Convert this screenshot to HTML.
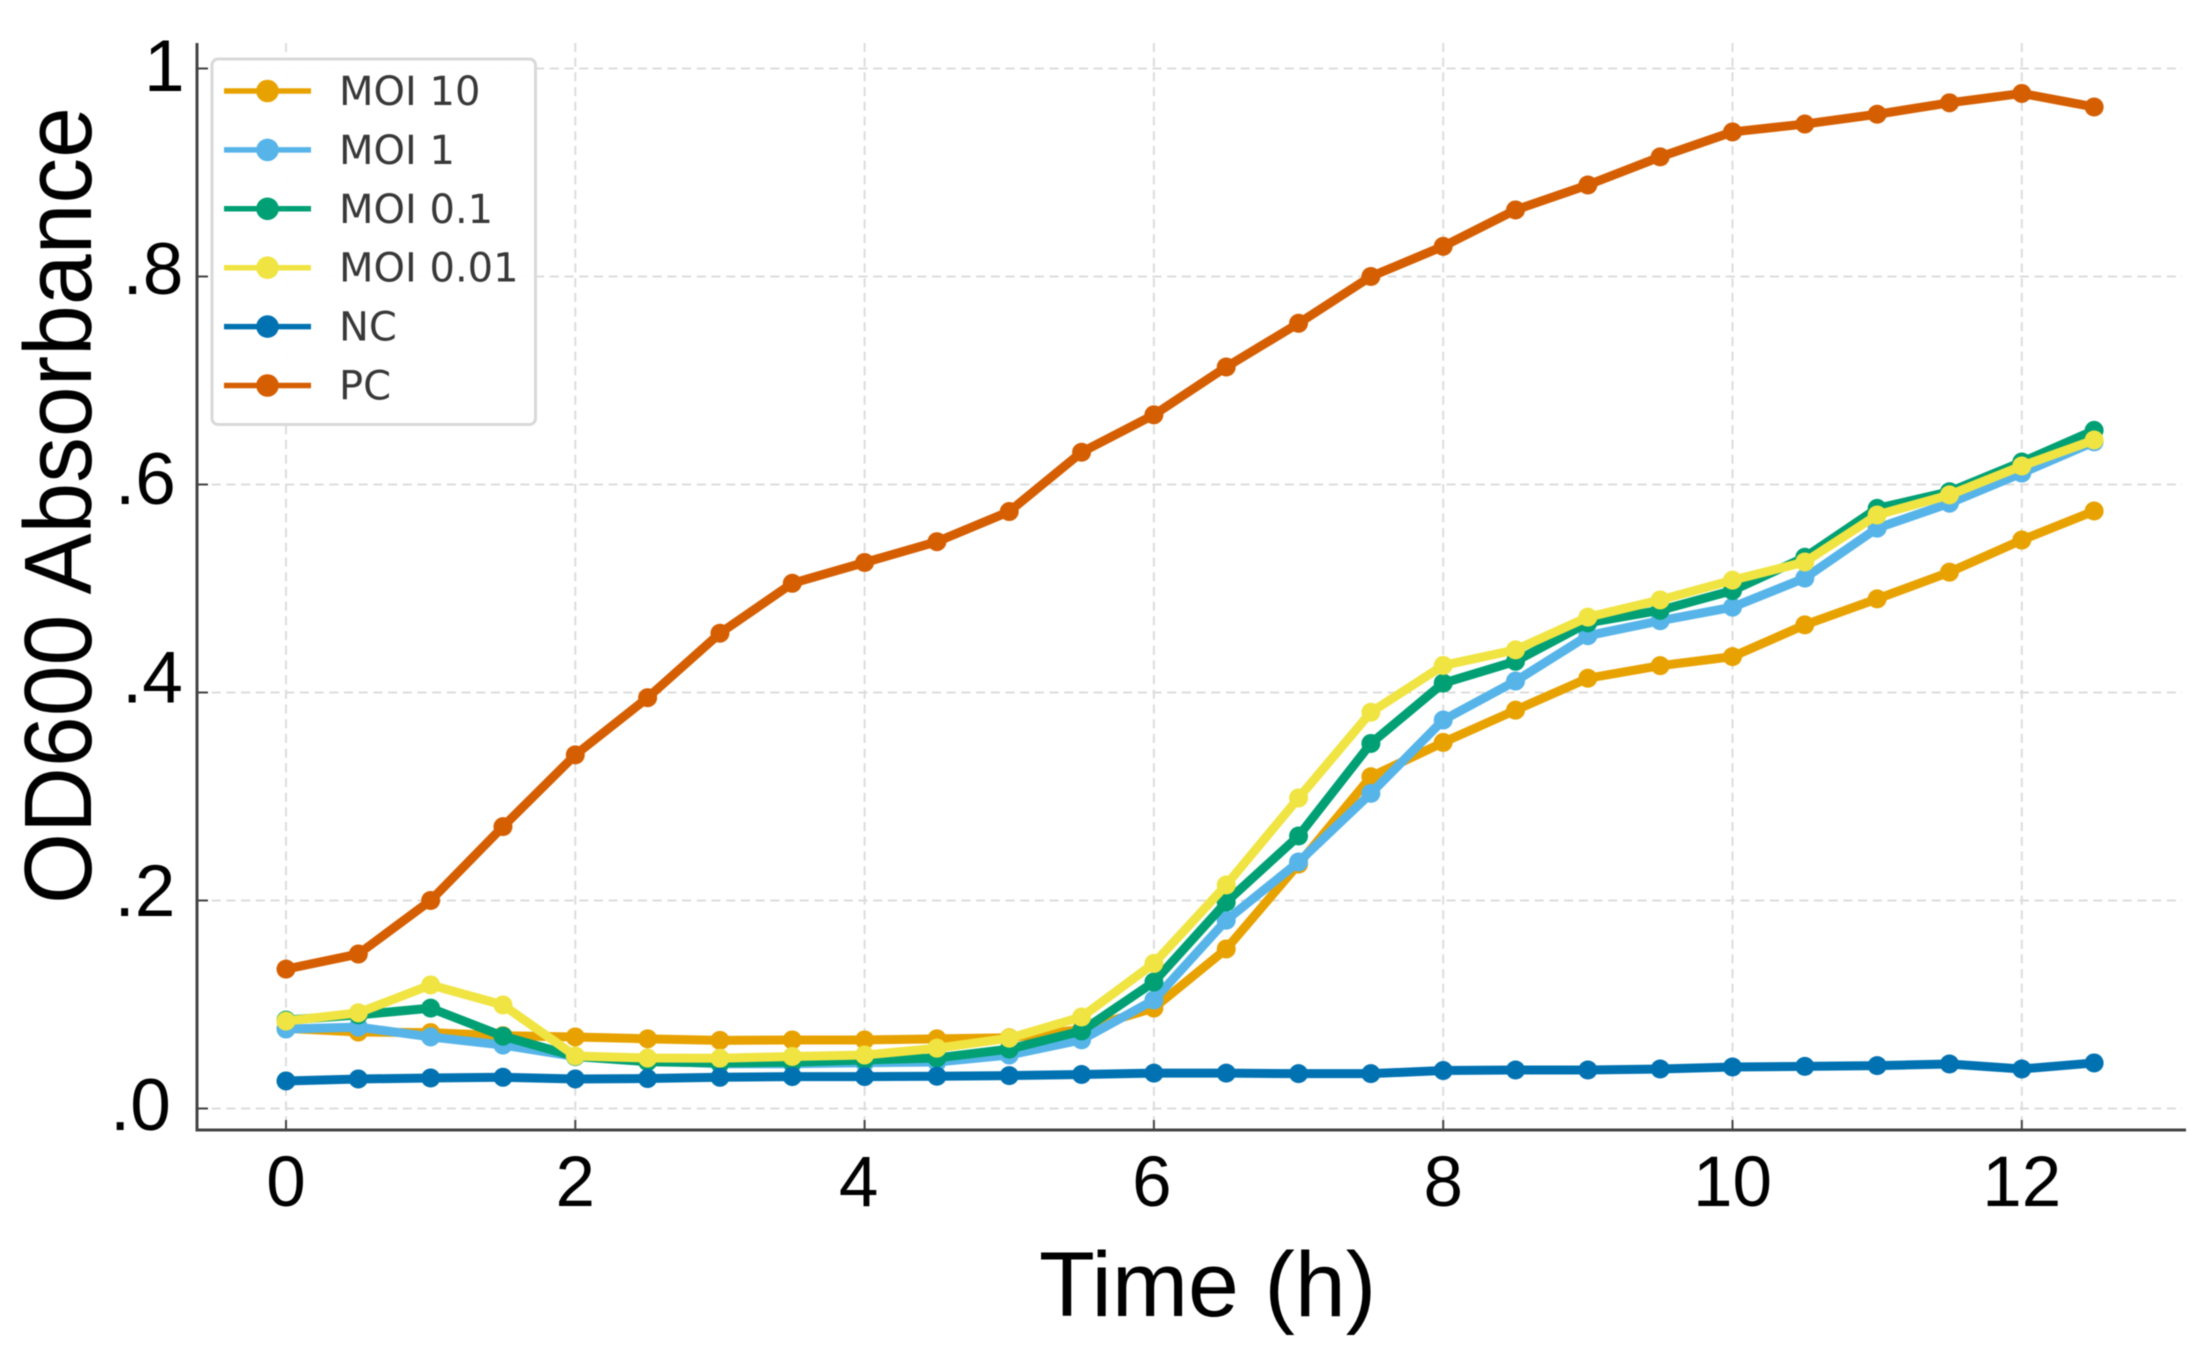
<!DOCTYPE html>
<html lang="en">
<head>
<meta charset="utf-8">
<title>OD600 Absorbance over Time</title>
<style>
  html, body { margin: 0; padding: 0; background: #fff; }
  #chart { display: block; filter: blur(0.5px); }
  .tick-label, .axis-title { font-family: "Liberation Sans", Arial, sans-serif; fill: #000; }
  .legend-label { font-family: "DejaVu Sans", "Liberation Sans", sans-serif; fill: #383838; font-size: 40px; }
</style>
</head>
<body>
<svg id="chart" xmlns="http://www.w3.org/2000/svg" width="2211" height="1366" viewBox="0 0 2211 1366"></svg>
<script>
const hours = [0, 0.5, 1, 1.5, 2, 2.5, 3, 3.5, 4, 4.5, 5, 5.5, 6, 6.5, 7, 7.5, 8, 8.5, 9, 9.5, 10, 10.5, 11, 11.5, 12, 12.5];
const moi10 = [0.077, 0.0735, 0.073, 0.070, 0.0688, 0.067, 0.0655, 0.0659, 0.0659, 0.067, 0.068, 0.076, 0.0966, 0.1534, 0.235, 0.319, 0.352, 0.383, 0.4137, 0.4258, 0.4345, 0.465, 0.49, 0.5157, 0.5466, 0.5745];
const moi1 = [0.0764, 0.0783, 0.0688, 0.061, 0.050, 0.046, 0.043, 0.043, 0.044, 0.0447, 0.0514, 0.066, 0.1043, 0.181, 0.237, 0.303, 0.3735, 0.411, 0.4546, 0.469, 0.482, 0.510, 0.558, 0.582, 0.611, 0.641];
const moi01 = [0.085, 0.090, 0.0965, 0.0695, 0.050, 0.045, 0.0438, 0.0445, 0.0466, 0.0486, 0.0571, 0.0745, 0.1216, 0.1985, 0.262, 0.351, 0.409, 0.430, 0.467, 0.479, 0.498, 0.530, 0.577, 0.593, 0.6216, 0.652];
const moi001 = [0.084, 0.092, 0.1188, 0.0995, 0.0505, 0.0485, 0.0483, 0.050, 0.0514, 0.058, 0.0676, 0.088, 0.1395, 0.2149, 0.2986, 0.381, 0.426, 0.441, 0.4725, 0.489, 0.508, 0.5255, 0.5707, 0.59, 0.6178, 0.6428];
const nc = [0.0265, 0.0284, 0.0293, 0.030, 0.0284, 0.0288, 0.030, 0.0307, 0.0307, 0.031, 0.0316, 0.0327, 0.034, 0.034, 0.0335, 0.0335, 0.0365, 0.037, 0.037, 0.038, 0.0399, 0.0405, 0.0412, 0.0428, 0.038, 0.0438];
const pc = [0.134, 0.1485, 0.200, 0.271, 0.340, 0.395, 0.457, 0.505, 0.525, 0.545, 0.574, 0.631, 0.667, 0.713, 0.755, 0.800, 0.829, 0.864, 0.888, 0.915, 0.939, 0.9466, 0.956, 0.967, 0.976, 0.963];
const seriesNames = ["MOI 10", "MOI 1", "MOI 0.1", "MOI 0.01", "NC", "PC"];
const seriesValues = [moi10, moi1, moi01, moi001, nc, pc];
const seriesColors = ["#E8A200", "#56B4E9", "#00A074", "#F0E442", "#0072B2", "#D55E00"];
const xTicks = [0, 2, 4, 6, 8, 10, 12];
const xTickLabels = ["0", "2", "4", "6", "8", "10", "12"];
const yTicks = [0, 0.2, 0.4, 0.6, 0.8, 1];
const yTickLabels = [".0", ".2", ".4", ".6", ".8", "1"];

const svg = document.getElementById('chart');
const NS = 'http://www.w3.org/2000/svg';

function make(tag, attrs, parent) {
  const el = document.createElementNS(NS, tag);
  for (const k in attrs) el.setAttribute(k, attrs[k]);
  parent.appendChild(el);
  return el;
}
function xScale(t) { return 286 + 144.65 * t; }
function yScale(v) { return 1108.5 - 1040 * v; }

const plot = { left: 197, right: 2186, top: 43, bottom: 1130 };

/* grid */
const grid = make('g', { stroke: '#dcdcdc', 'stroke-width': 2, 'stroke-dasharray': '9 5.7', fill: 'none' }, svg);


xTicks.forEach(function (t) {
  const l = make('line', { x1: xScale(t), x2: xScale(t), y1: plot.top, y2: plot.bottom }, grid);
  
  
});
yTicks.forEach(function (v) {
  const l = make('line', { x1: plot.left, x2: 2182, y1: yScale(v), y2: yScale(v) }, grid);
  
  
});

/* series */
seriesValues.forEach(function (vals, i) {
  const g = make('g', { fill: seriesColors[i], stroke: 'none' }, svg);
  
  
  const pts = vals.map(function (v, j) { return xScale(hours[j]) + ',' + yScale(v); }).join(' ');
  const line = make('polyline', { points: pts, fill: 'none', stroke: seriesColors[i], 'stroke-width': 9, 'stroke-linejoin': 'round', 'stroke-linecap': 'round' }, g);
  
  
  vals.forEach(function (v, j) {
    const c = make('circle', { cx: xScale(hours[j]), cy: yScale(v), r: 9.5 }, g);
    
    
  });
});

/* axes */
const axes = make('g', { stroke: '#444', fill: 'none' }, svg);


const ySpine = make('line', { x1: plot.left, x2: plot.left, y1: plot.top, y2: plot.bottom + 1.5, 'stroke-width': 3 }, axes);


const xSpine = make('line', { x1: plot.left - 1.5, x2: plot.right, y1: plot.bottom, y2: plot.bottom, 'stroke-width': 3 }, axes);



/* the reference's x labels are hand-placed too: "4" sits left of its tick */
function xLabelNudge(label) {
  switch (label) {
    case '4': return -6;
    case '6': return -2;
    default:  return 0;
  }
}
xTicks.forEach(function (t, i) {
  const m = make('line', { x1: xScale(t), x2: xScale(t), y1: plot.bottom - 10, y2: plot.bottom, 'stroke-width': 2 }, axes);
  
  
  const txt = make('text', { x: xScale(t) + xLabelNudge(xTickLabels[i]), y: 1206, 'text-anchor': 'middle', 'font-size': 71, 'class': 'tick-label' }, svg);
  
  
  txt.textContent = xTickLabels[i];
});

/* y tick labels are hand-placed in the reference, so each has its own nudge */
function yLabelPlacement(label) {
  switch (label) {
    case '1':  return { x: 144, dy: 22.5 };
    case '.8': return { x: 122.5, dy: 17.5 };
    case '.6': return { x: 115, dy: 19.5 };
    case '.4': return { x: 122, dy: 10 };
    case '.2': return { x: 114.5, dy: 15.5 };
    default:   return { x: 110, dy: 21.5 };
  }
}
yTicks.forEach(function (v, i) {
  const m = make('line', { x1: plot.left, x2: plot.left + 11, y1: yScale(v), y2: yScale(v), 'stroke-width': 2 }, axes);
  
  
  const place = yLabelPlacement(yTickLabels[i]);
  const txt = make('text', { x: place.x, y: yScale(v) + place.dy, 'font-size': 73, 'class': 'tick-label' }, svg);
  
  
  txt.textContent = yTickLabels[i];
});

/* axis titles */
const xTitle = make('text', { x: 1039, y: 1316, 'font-size': 91.5, 'class': 'axis-title' }, svg);


xTitle.textContent = 'Time (h)';
const yTitle = make('text', { transform: 'translate(91 904) rotate(-90) scale(1 1.05)', x: 0, y: 0, 'font-size': 91.3, 'class': 'axis-title' }, svg);


yTitle.textContent = 'OD600 Absorbance';

/* legend */
const legend = make('g', {}, svg);


const legendBox = make('rect', { x: 212, y: 59, width: 323.5, height: 365.5, rx: 6, ry: 6, fill: '#fff', 'fill-opacity': 0.96, stroke: '#d9d9d9', 'stroke-width': 3 }, legend);


seriesNames.forEach(function (name, i) {
  const rowY = 91 + 58.9 * i;
  const entry = make('g', {}, legend);
  
  
  const l = make('line', { x1: 224, x2: 311, y1: rowY, y2: rowY, stroke: seriesColors[i], 'stroke-width': 5.5 }, entry);
  
  
  const c = make('circle', { cx: 267.5, cy: rowY, r: 11.3, fill: seriesColors[i] }, entry);
  
  
  const t = make('text', { x: 339, y: rowY + 14, 'class': 'legend-label' }, entry);
  
  
  t.textContent = name;
});
</script>
</body>
</html>
